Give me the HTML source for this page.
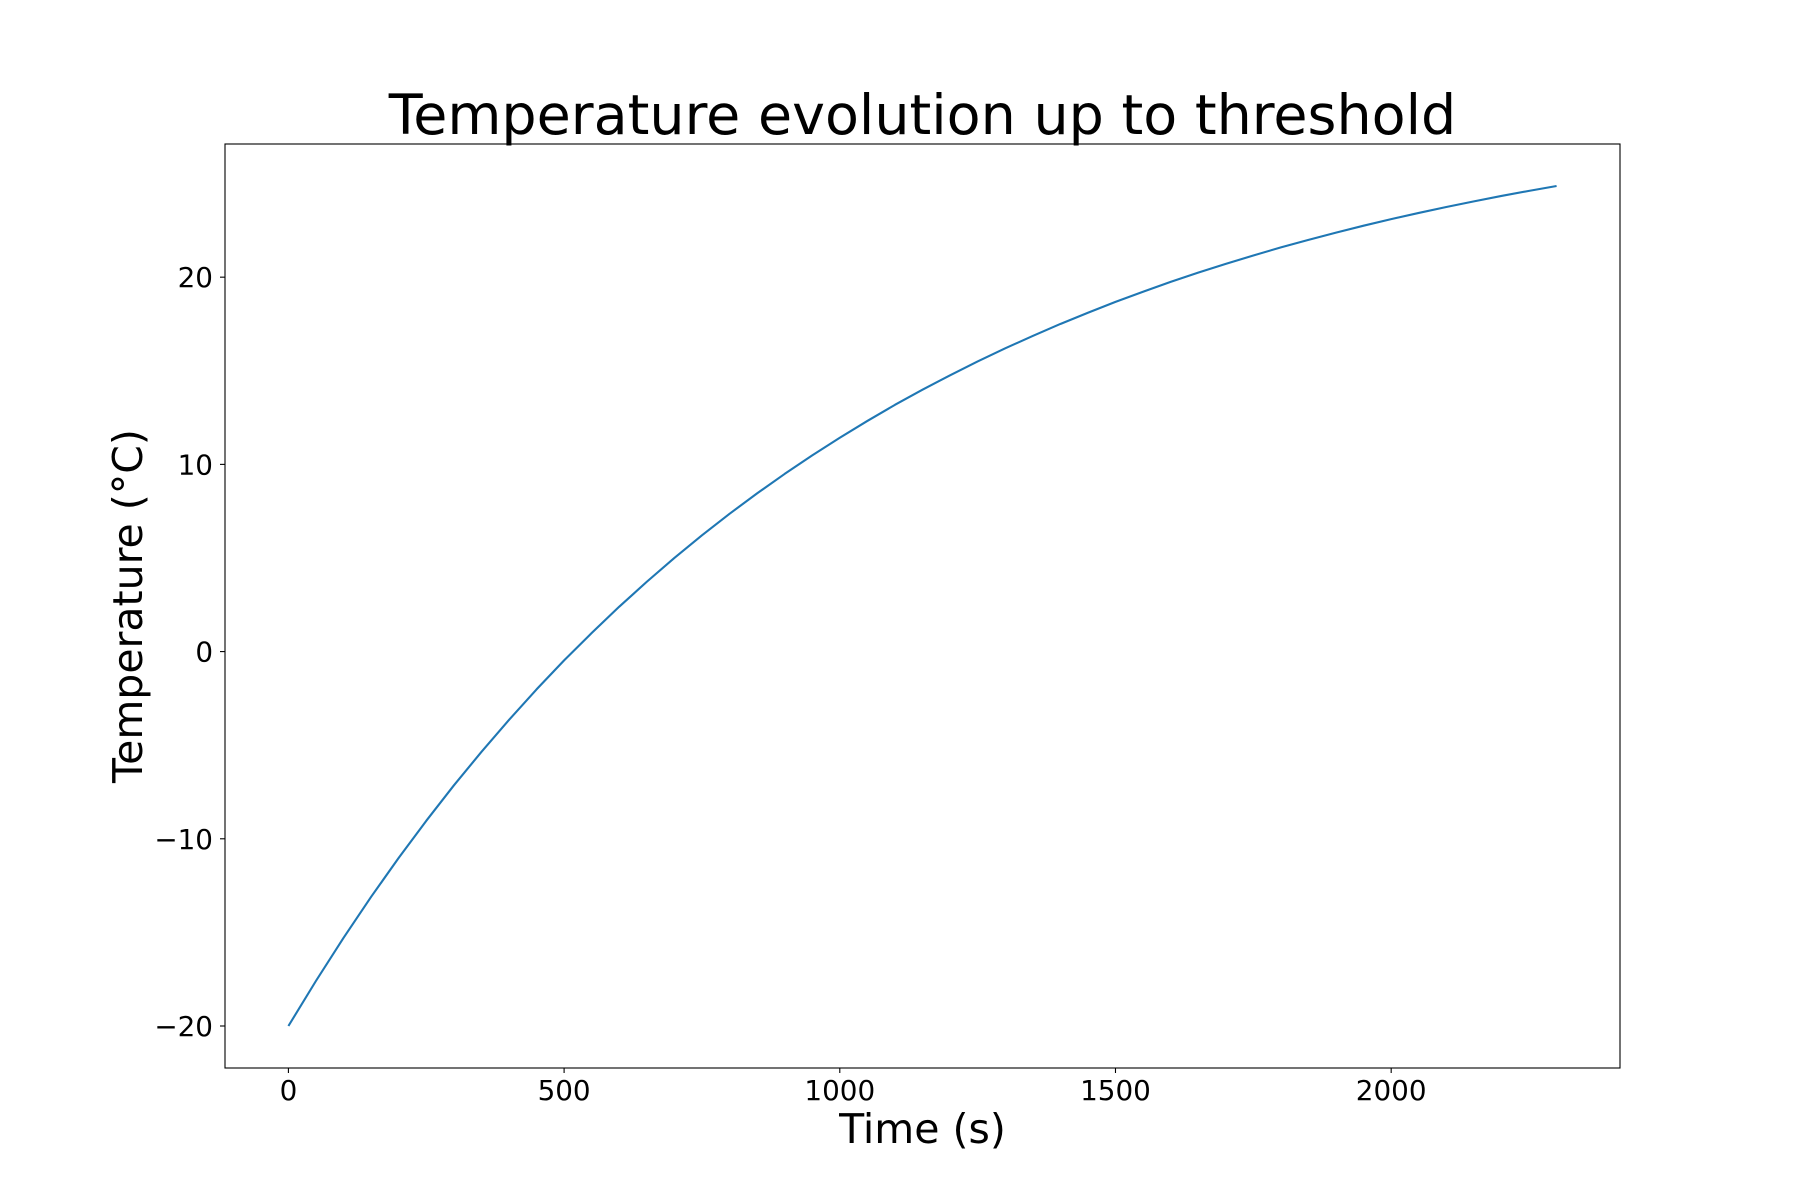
<!DOCTYPE html>
<html><head><meta charset="utf-8"><style>
html,body{margin:0;padding:0;background:#fff}
svg{display:block}
text{font-family:"DejaVu Sans","Liberation Sans",sans-serif;fill:#000}
</style></head><body>
<svg id="chart" width="1800" height="1200" viewBox="0 0 1800 1200" xmlns="http://www.w3.org/2000/svg">
<text x="922.5" y="134" font-size="55.5" text-anchor="middle">Temperature evolution up to threshold</text>
<text x="922.5" y="1143" font-size="41" text-anchor="middle">Time (s)</text>
<text x="0" y="0" font-size="41" text-anchor="middle" transform="translate(142,606) rotate(-90)">Temperature (°C)</text>
<g id="marks"></g>
<rect x="225" y="144" width="1395" height="924" fill="none" stroke="#000" stroke-width="1.1"/>
</svg>
<script>
const times = [0,50,100,150,200,250,300,350,400,450,500,550,600,650,700,750,800,850,900,950,1000,1050,1100,1150,1200,1250,1300,1350,1400,1450,1500,1550,1600,1650,1700,1750,1800,1850,1900,1950,2000,2050,2100,2150,2200,2250,2300];
const temps = [-20,-17.59,-15.29,-13.10,-11.02,-9.04,-7.15,-5.36,-3.65,-2.02,-0.47,0.99,2.40,3.73,5.00,6.21,7.36,8.45,9.49,10.48,11.42,12.32,13.18,13.99,14.76,15.50,16.20,16.86,17.50,18.10,18.68,19.22,19.75,20.24,20.71,21.16,21.59,21.99,22.38,22.75,23.10,23.43,23.75,24.05,24.34,24.61,24.87];
const xTicks = [0,500,1000,1500,2000];
const yTicks = [-20,-10,0,10,20];

const L=225,R=1620,T=144,B=1068;
const xmin=Math.min(...times),xmax=Math.max(...times);
const ymin=Math.min(...temps),ymax=Math.max(...temps);
const xl=xmin-0.05*(xmax-xmin),xh=xmax+0.05*(xmax-xmin);
const yl=ymin-0.05*(ymax-ymin),yh=ymax+0.05*(ymax-ymin);
const sx=v=>L+(v-xl)/(xh-xl)*(R-L);
const sy=v=>B-(v-yl)/(yh-yl)*(B-T);
const NS="http://www.w3.org/2000/svg";
const g=document.getElementById('marks');
function mk(tag,attrs){const e=document.createElementNS(NS,tag);for(const k in attrs)e.setAttribute(k,attrs[k]);g.appendChild(e);return e;}
xTicks.forEach(v=>{
  const t=mk('line',{x1:sx(v),x2:sx(v),y1:B,y2:B+5,stroke:'#000','stroke-width':1.1});
  
  
  const lb=mk('text',{x:sx(v),y:B+32,'font-size':27.8,'text-anchor':'middle'});
  lb.textContent=String(v).replace('-','−');
  
  
});
yTicks.forEach(v=>{
  const t=mk('line',{x1:L-5,x2:L,y1:sy(v),y2:sy(v),stroke:'#000','stroke-width':1.1});
  
  
  const lb=mk('text',{x:L-12,y:sy(v)+10,'font-size':27.8,'text-anchor':'end'});
  lb.textContent=String(v).replace('-','−');
  
  
});
const pts=times.map((t,i)=>sx(t).toFixed(2)+','+sy(temps[i]).toFixed(2)).join(' ');
const line=mk('polyline',{points:pts,fill:'none',stroke:'#1f77b4','stroke-width':2.1,'stroke-linejoin':'round'});


</script>
</body></html>
